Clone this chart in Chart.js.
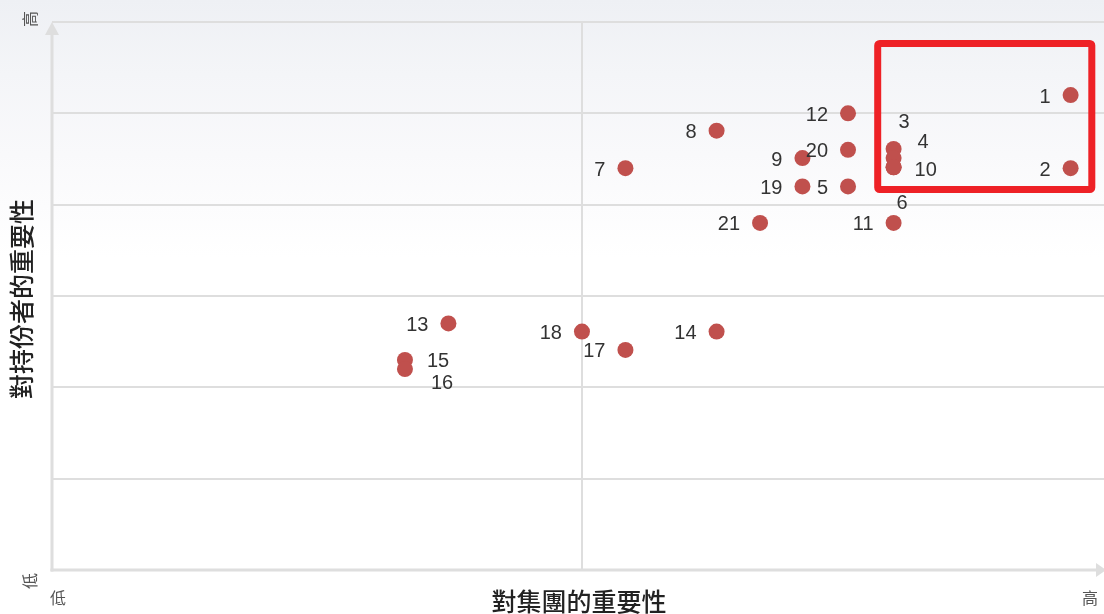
<!DOCTYPE html>
<html>
<head>
<meta charset="utf-8">
<script src="https://cdn.jsdelivr.net/npm/chart.js@4/dist/chart.umd.min.js"></script>
<style>
  html, body { margin: 0; padding: 0; }
  body {
    width: 1104px; height: 614px; overflow: hidden;
    background: linear-gradient(to bottom, #eef0f4 0%, #f4f5f8 12%, #f9f9fb 25%, #ffffff 42%, #ffffff 100%);
  }
  #wrap { position: relative; width: 1104px; height: 614px; }
</style>
</head>
<body>
<div id="wrap"><canvas id="c" width="1104" height="614"></canvas></div>
<script>
// ---- data ----
const issueIds   = ['1','2','3','4','10','6','12','20','5','9','19','8','7','21','11','13','18','17','14','15','16'];
const groupImportance = [9.61, 9.61, 7.94, 7.94, 7.94, 7.94, 7.51, 7.51, 7.51, 7.08, 7.08, 6.27, 5.41, 6.68, 7.94, 3.74, 5.00, 5.41, 6.27, 3.33, 3.33];
const stakeholderImportance = [5.20, 4.40, 4.61, 4.51, 4.41, 4.41, 5.00, 4.60, 4.20, 4.51, 4.20, 4.81, 4.40, 3.80, 3.80, 2.70, 2.61, 2.41, 2.61, 2.30, 2.20];
const xTitle = '對集團的重要性';
const yTitle = '對持份者的重要性';
const lowLabel = '低';
const highLabel = '高';
const xRange = [0, 9.925];
const yRange = [0, 6];
const xDividers = [5];
const highlightBox = { x0: 7.79, x1: 9.81, y0: 4.166, y1: 5.765 };

// label placement (offsets in px, style only)
const labelOffsets = {
  '3':  { dx: 5,  dy: -26, align: 'left' },
  '4':  { dx: 24, dy: -16, align: 'left' },
  '10': { dx: 21, dy: 3,   align: 'left' },
  '6':  { dx: 3,  dy: 36,  align: 'left' },
  '15': { dx: 22, dy: 2,   align: 'left' },
  '16': { dx: 26, dy: 14,  align: 'left' }
};
const defaultOffset = { dx: -20, dy: 2, align: 'right' };

const points = groupImportance.map((x, i) => ({ x: x, y: stakeholderImportance[i] }));

const GRID = '#dedede';

const decorPlugin = {
  id: 'decor',
  beforeDatasetsDraw(chart) {
    const ctx = chart.ctx;
    const a = chart.chartArea;
    ctx.save();
    ctx.strokeStyle = GRID;
    ctx.fillStyle = GRID;
    ctx.lineWidth = 3;
    // y axis
    ctx.beginPath();
    ctx.moveTo(a.left, a.bottom + 1.5);
    ctx.lineTo(a.left, a.top + 10);
    ctx.stroke();
    ctx.beginPath();
    ctx.moveTo(a.left, a.top);
    ctx.lineTo(a.left - 7, a.top + 13);
    ctx.lineTo(a.left + 7, a.top + 13);
    ctx.closePath();
    ctx.fill();
    // x axis
    ctx.beginPath();
    ctx.moveTo(a.left - 1.5, a.bottom);
    ctx.lineTo(a.right - 8, a.bottom);
    ctx.stroke();
    ctx.beginPath();
    ctx.moveTo(a.right + 2, a.bottom);
    ctx.lineTo(a.right - 8, a.bottom - 7);
    ctx.lineTo(a.right - 8, a.bottom + 7);
    ctx.closePath();
    ctx.fill();
    ctx.restore();
  },
  afterDatasetsDraw(chart) {
    const ctx = chart.ctx;
    const xs = chart.scales.x, ys = chart.scales.y;
    const meta = chart.getDatasetMeta(0);
    ctx.save();
    // point labels
    ctx.font = '20px "Liberation Sans", Arial, sans-serif';
    ctx.fillStyle = '#333333';
    ctx.textBaseline = 'middle';
    meta.data.forEach((el, i) => {
      const id = issueIds[i];
      const o = labelOffsets[id] || defaultOffset;
      ctx.textAlign = o.align;
      ctx.fillText(id, el.x + o.dx, el.y + o.dy);
    });
    // highlight box
    const bx0 = xs.getPixelForValue(highlightBox.x0);
    const bx1 = xs.getPixelForValue(highlightBox.x1);
    const by0 = ys.getPixelForValue(highlightBox.y1);
    const by1 = ys.getPixelForValue(highlightBox.y0);
    ctx.strokeStyle = '#ee2126';
    ctx.lineWidth = 7;
    ctx.lineJoin = 'round';
    ctx.beginPath();
    ctx.roundRect(bx0, by0, bx1 - bx0, by1 - by0, 2);
    ctx.stroke();

    // titles
    const a = chart.chartArea;
    ctx.fillStyle = '#222222';
    ctx.font = '500 25px "Noto Sans CJK TC", sans-serif';
    ctx.textAlign = 'center';
    ctx.textBaseline = 'middle';
    ctx.fillText(xTitle, 579, 601);
    ctx.save();
    ctx.translate(21, 299);
    ctx.rotate(-Math.PI / 2);
    ctx.fillText(yTitle, 0, 0);
    ctx.restore();

    // corner labels
    ctx.fillStyle = '#555555';
    ctx.font = '16px "Noto Sans CJK TC", sans-serif';
    ctx.fillText(lowLabel, a.left + 6, 598);
    ctx.fillText(highLabel, 1090, 598);
    ctx.save();
    ctx.translate(30, 19);
    ctx.rotate(-Math.PI / 2);
    ctx.fillText(highLabel, 0, 0);
    ctx.restore();
    ctx.save();
    ctx.translate(30, 581);
    ctx.rotate(-Math.PI / 2);
    ctx.fillText(lowLabel, 0, 0);
    ctx.restore();
    ctx.restore();
  }
};

new Chart(document.getElementById('c'), {
  type: 'scatter',
  data: {
    datasets: [{
      data: points,
      pointRadius: 8,
      pointHoverRadius: 8,
      pointBackgroundColor: '#c0504d',
      pointBorderWidth: 0,
      clip: false
    }]
  },
  options: {
    responsive: false,
    animation: false,
    events: [],
    layout: { autoPadding: false, padding: { left: 52, top: 22, right: 0, bottom: 44 } },
    plugins: { legend: { display: false }, tooltip: { enabled: false } },
    scales: {
      x: {
        type: 'linear', min: xRange[0], max: xRange[1],
        afterBuildTicks: (s) => { s.ticks = xDividers.map(v => ({ value: v })); },
        ticks: { display: false },
        grid: { color: GRID, lineWidth: 2, drawTicks: false },
        border: { display: false },
        title: { display: false }
      },
      y: {
        type: 'linear', min: yRange[0], max: yRange[1],
        ticks: { display: false, stepSize: 1 },
        grid: { color: (c) => c.tick.value === 0 ? 'rgba(0,0,0,0)' : GRID, lineWidth: 2, drawTicks: false },
        border: { display: false },
        title: { display: false }
      }
    }
  },
  plugins: [decorPlugin]
});
</script>
</body>
</html>
